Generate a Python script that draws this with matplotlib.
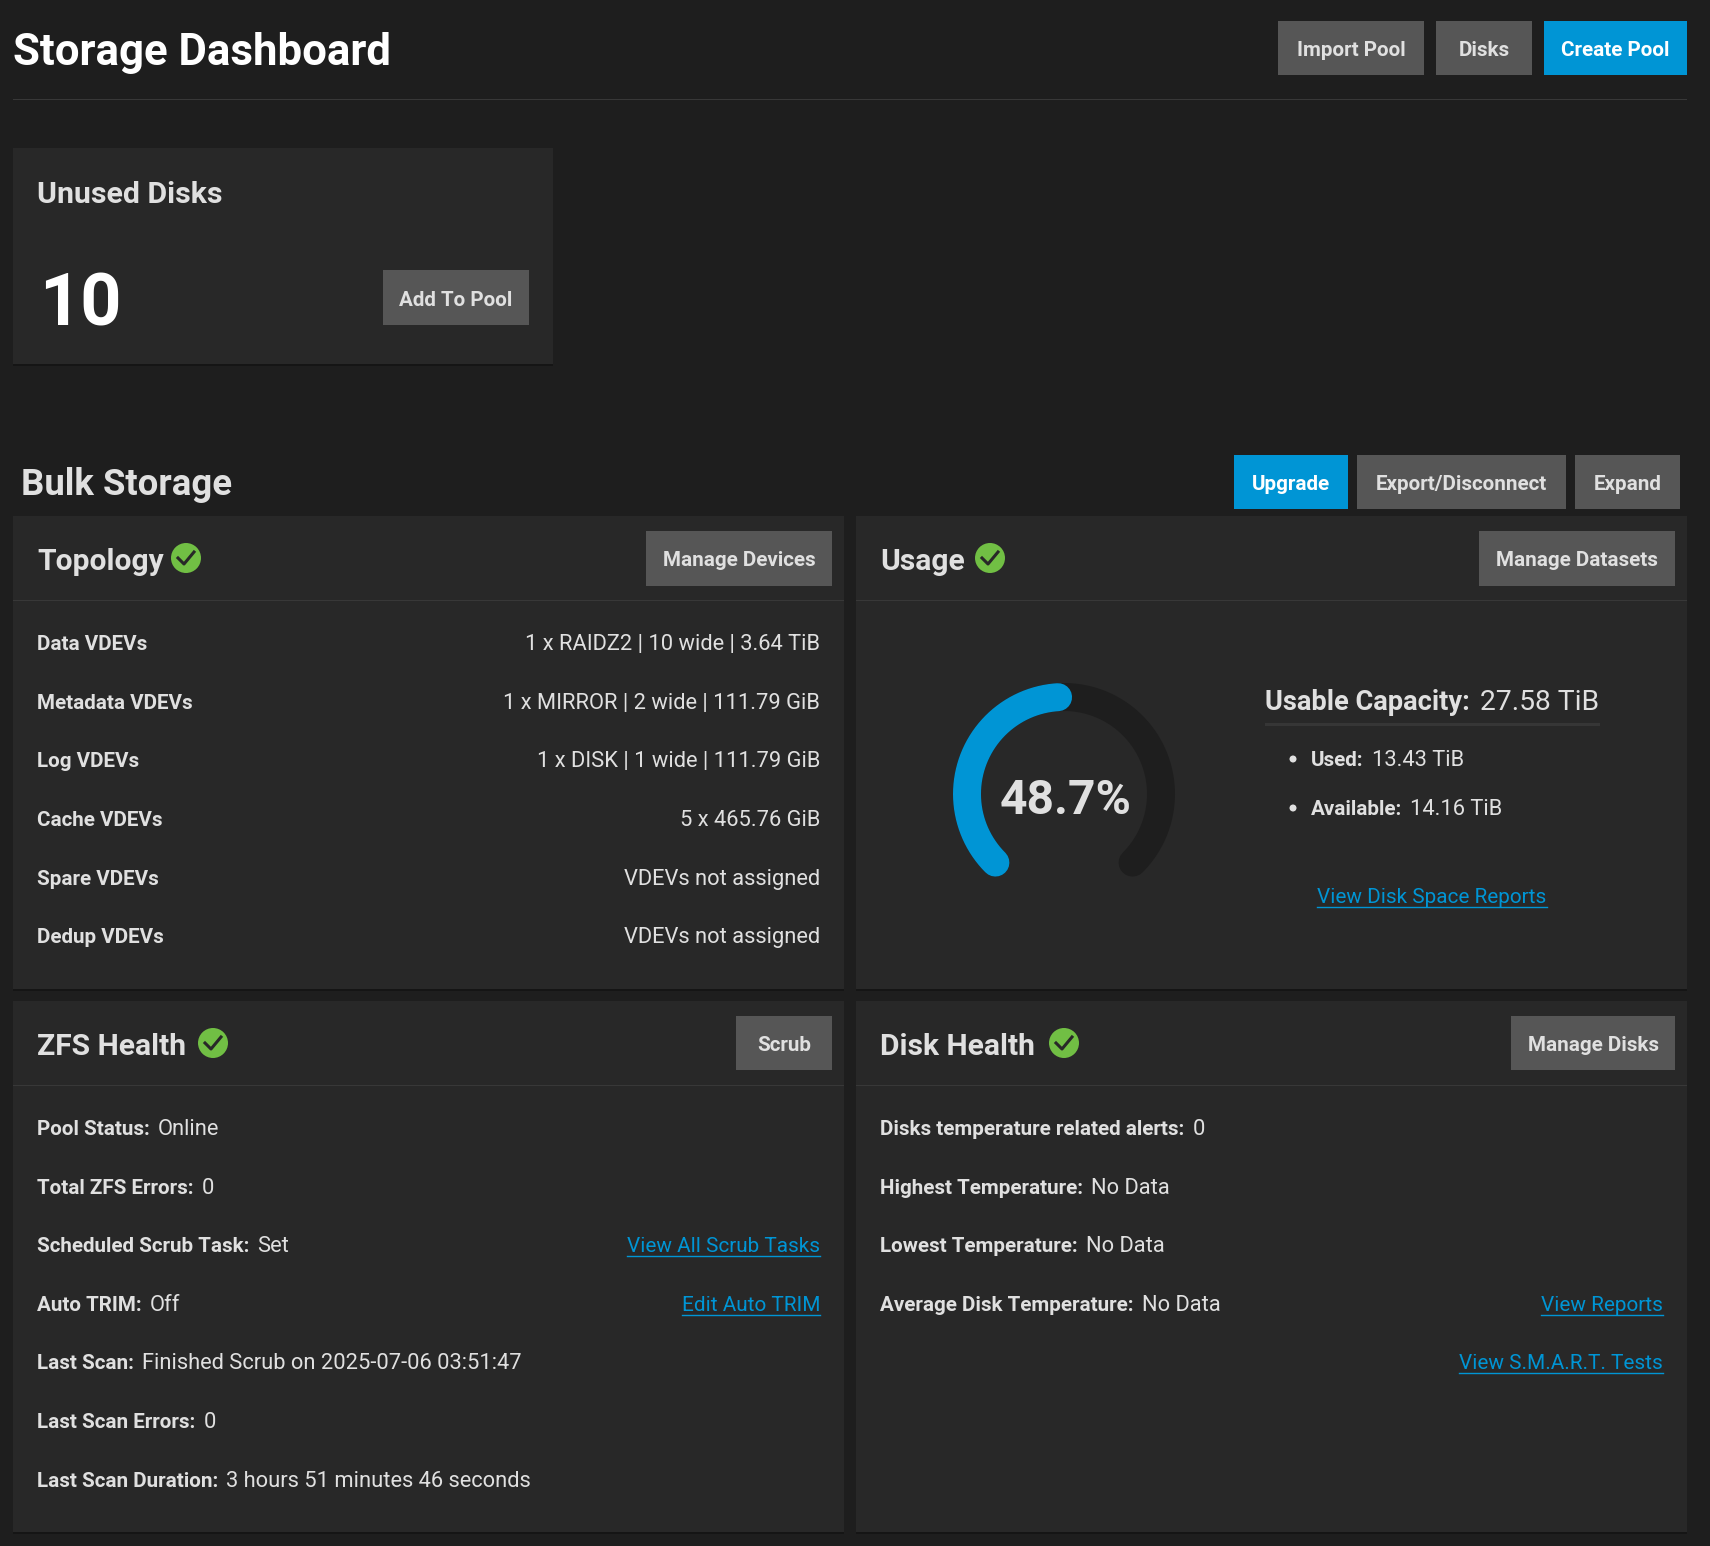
import matplotlib
matplotlib.use('Agg')
import matplotlib.pyplot as plt
from matplotlib.patches import Rectangle, Circle
import numpy as np

# Text content
topology_labels = ['Data VDEVs', 'Metadata VDEVs', 'Log VDEVs', 'Cache VDEVs', 'Spare VDEVs', 'Dedup VDEVs']
topology_values = ['1 x RAIDZ2 | 10 wide | 3.64 TiB', '1 x MIRROR | 2 wide | 111.79 GiB',
                   '1 x DISK | 1 wide | 111.79 GiB', '5 x 465.76 GiB',
                   'VDEVs not assigned', 'VDEVs not assigned']
zfs_labels = ['Pool Status:', 'Total ZFS Errors:', 'Scheduled Scrub Task:', 'Auto TRIM:',
              'Last Scan:', 'Last Scan Errors:', 'Last Scan Duration:']
zfs_values = ['Online', '0', 'Set', 'Off', 'Finished Scrub on 2025-07-06 03:51:47', '0',
              '3 hours 51 minutes 46 seconds']
zfs_links = ['', '', 'View All Scrub Tasks', 'Edit Auto TRIM', '', '', '']
disk_labels = ['Disks temperature related alerts:', 'Highest Temperature:', 'Lowest Temperature:',
               'Average Disk Temperature:']
disk_values = ['0', 'No Data', 'No Data', 'No Data']
disk_links = ['', '', '', 'View Reports', 'View S.M.A.R.T. Tests']
unused_disks = 10
used_pct = 48.7
usable_capacity = '27.58 TiB'
used_space = '13.43 TiB'
available_space = '14.16 TiB'

BG = '#1e1e1e'
PANEL = '#282828'
BTN = '#565656'
BLUE = '#0095d5'
TEXT = '#e0e0e0'
GREEN = '#71bf44'
LINE = '#383838'
FONT = 'Roboto'

fig = plt.figure(figsize=(17.1, 15.46), dpi=100, facecolor=BG)
ax = fig.add_axes([0, 0, 1, 1])
ax.set_xlim(0, 1710)
ax.set_ylim(1546, 0)
ax.axis('off')
renderer = fig.canvas.get_renderer()


def rect(x0, y0, x1, y1, color, z=1):
    ax.add_patch(Rectangle((x0, y0), x1 - x0, y1 - y0, facecolor=color, edgecolor='none', zorder=z))


def label(x, y, s, size=21.9, weight='normal', color=TEXT, ha='left'):
    # size is in pixels, y is the baseline
    t = ax.text(x, y, s, fontsize=size * 0.72, fontweight=weight, color=color, ha=ha, va='baseline',
                family=FONT, zorder=5)
    return t.get_window_extent(renderer)


def button(x0, y0, x1, y1, s, color=BTN, fg=TEXT):
    rect(x0, y0, x1, y1, color, 3)
    label((x0 + x1) / 2, (y0 + y1) / 2 + 8, s, size=20.6, weight='bold', color=fg, ha='center')


def link(x, y, s, ha='left'):
    box = label(x, y, s, size=20.8, color=BLUE, ha=ha)
    ax.plot([box.x0, box.x1], [y + 4, y + 4], color=BLUE, lw=1.0, zorder=5)


def check(cx, cy):
    ax.add_patch(Circle((cx, cy), 15, facecolor=GREEN, edgecolor='none', zorder=4))
    ax.plot([cx - 8, cx - 2, cx + 8], [cy, cy + 6, cy - 6], color=PANEL, lw=2.2, zorder=5)


def pair(x, y, name, val):
    box = label(x, y, name, size=20.6, weight='bold')
    label(box.x1 + 8, y, val)


def panel(x0, y0, x1, y1, title, check_x):
    rect(x0, y1, x1, y1 + 2, '#151515', 1)
    rect(x0, y0, x1, y1, PANEL, 2)
    rect(x0, y0 + 84, x1, y0 + 85, LINE, 3)
    label(x0 + 24, y0 + 54, title, size=30, weight='bold')
    check(check_x, y0 + 42)


# page header
label(13, 65, 'Storage Dashboard', size=43.8, weight='bold', color='white')
rect(13, 99, 1687, 100, LINE)
button(1278, 21, 1424, 75, 'Import Pool')
button(1436, 21, 1532, 75, 'Disks')
button(1544, 21, 1687, 75, 'Create Pool', BLUE, 'white')

# unused disks card
rect(13, 364, 553, 366, '#151515', 1)
rect(13, 148, 553, 364, PANEL, 2)
label(37, 203, 'Unused Disks', size=30.3, weight='bold')
label(39, 326, str(unused_disks), size=72, weight='bold', color='white')
button(383, 270, 529, 325, 'Add To Pool')

# bulk storage heading
label(21, 495, 'Bulk Storage', size=36.5, weight='bold')
button(1234, 455, 1348, 509, 'Upgrade', BLUE, 'white')
button(1357, 455, 1566, 509, 'Export/Disconnect')
button(1575, 455, 1680, 509, 'Expand')

# panels
panel(13, 516, 844, 989, 'Topology', 186)
panel(856, 516, 1687, 989, 'Usage', 990)
panel(13, 1001, 844, 1532, 'ZFS Health', 213)
panel(856, 1001, 1687, 1532, 'Disk Health', 1064)
button(646, 531, 832, 586, 'Manage Devices')
button(1479, 531, 1675, 586, 'Manage Datasets')
button(736, 1016, 832, 1070, 'Scrub')
button(1511, 1016, 1675, 1070, 'Manage Disks')

# topology rows
topology_y = [650, 709, 767, 826, 885, 943]
for y, name, val in zip(topology_y, topology_labels, topology_values):
    label(37, y, name, size=20.6, weight='bold')
    label(820, y, val, ha='right')

# zfs health rows
zfs_y = [1135, 1194, 1252, 1311, 1369, 1428, 1487]
for y, name, val, lnk in zip(zfs_y, zfs_labels, zfs_values, zfs_links):
    pair(37, y, name, val)
    if lnk:
        link(820, y, lnk, ha='right')

# disk health rows
for y, name, val in zip(zfs_y, disk_labels, disk_values):
    pair(880, y, name, val)
for y, lnk in zip(zfs_y, disk_links):
    if lnk:
        link(1663, y, lnk, ha='right')

# usage gauge: 270 degree sweep starting bottom left
cx, cy, r = 1064, 794, 97
track = np.radians(np.linspace(225, -45, 200))
fill = np.radians(np.linspace(225, 225 - 270 * used_pct / 100, 200))
ax.plot(cx + r * np.cos(track), cy - r * np.sin(track), color=BG, lw=28 * 0.72,
        solid_capstyle='round', zorder=3)
ax.plot(cx + r * np.cos(fill), cy - r * np.sin(fill), color=BLUE, lw=28 * 0.72,
        solid_capstyle='round', zorder=4)
label(cx + 2, 814, f'{used_pct}%', size=48, weight='bold', ha='center')

# usage text block
box = label(1265, 710, 'Usable Capacity:', size=27.2, weight='bold')
label(box.x1 + 10, 710, usable_capacity, size=28.2)
rect(1265, 723, 1600, 726, '#363636', 3)
for y, name, val in [(766, 'Used:', used_space), (815, 'Available:', available_space)]:
    ax.add_patch(Circle((1293, y - 7), 3.5, facecolor=TEXT, edgecolor='none', zorder=4))
    pair(1311, y, name, val)
link(1432, 903, 'View Disk Space Reports', ha='center')

fig.savefig('out.png', dpi=100, facecolor=BG)
